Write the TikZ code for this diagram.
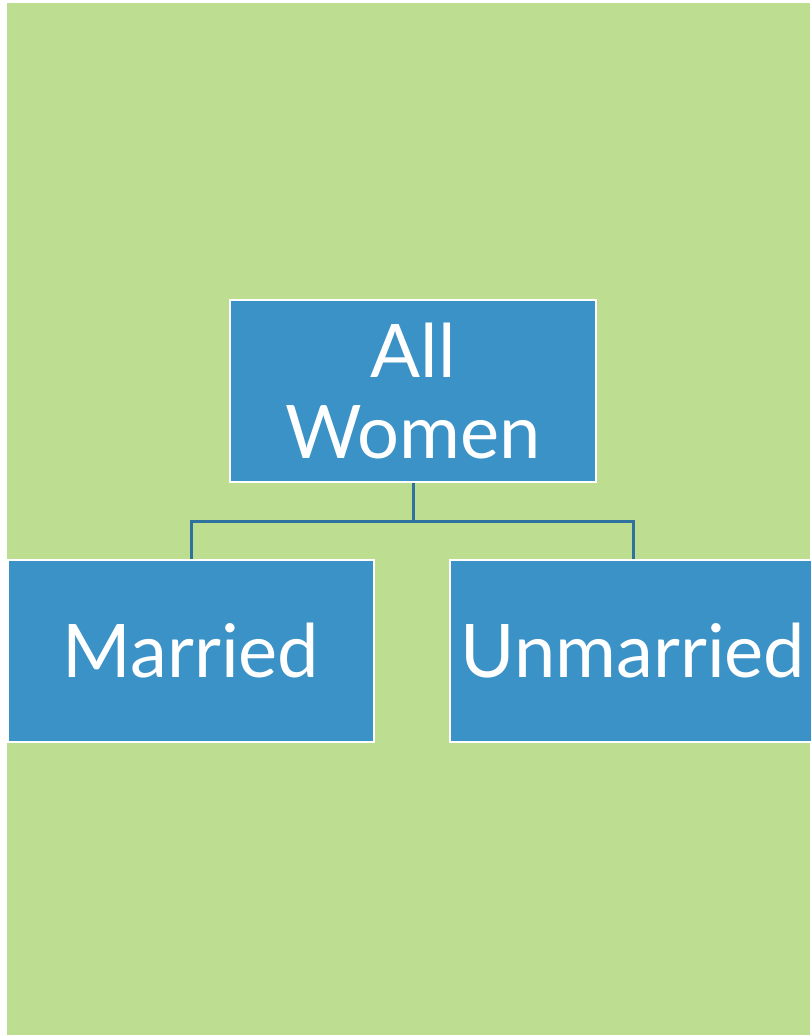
\documentclass[tikz,border=0pt]{standalone}
\usepackage{fontspec}
\setmainfont{Lato}
\usetikzlibrary{positioning}
\definecolor{bggreen}{HTML}{BDDE91}
\definecolor{boxblue}{HTML}{3B92C6}
\definecolor{lineblue}{HTML}{2F729E}
\begin{document}
\begin{tikzpicture}[x=0.5pt,y=-0.5pt]
    \tikzstyle{box}=[rectangle,draw=white,line width=1pt,fill=boxblue,text=white,
    font=\fontsize{37}{40}\selectfont,inner sep=0pt,align=center,
    minimum width=183pt,minimum height=91pt]

    \tikzstyle{conn}=[draw=lineblue,line width=1.5pt]

    \useasboundingbox (0,0) rectangle (810,1035);
    \fill[white] (0,0) rectangle (810,1035);
    \fill[bggreen] (7,3) rectangle (810,1035);

    \node[box](all) at (413,391){All\\Women};
    \node[box](married)[below=38pt of all,xshift=-111pt]{Married};
    \node[box](unmarried)[right=37pt of married]{Unmarried};

    \draw[conn] (all.south) -- ++(0,-19pt) -| (married.north);
    \draw[conn] (all.south) -- ++(0,-19pt) -| (unmarried.north);
\end{tikzpicture}
\end{document}
